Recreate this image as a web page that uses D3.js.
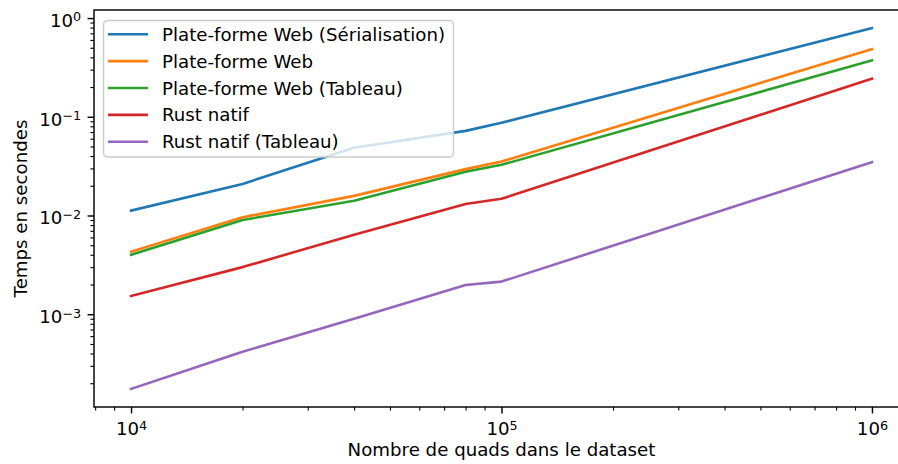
<!DOCTYPE html>
<html>
<head>
<meta charset="utf-8">
<script src="https://cdn.jsdelivr.net/npm/d3@7"></script>
<style>
  html, body { margin: 0; padding: 0; background: #fff; }
  svg { display: block; font-family: "DejaVu Sans", sans-serif; }
</style>
</head>
<body>
<svg id="chart" width="898" height="464"></svg>
<script>
// ---- data ----
const quads = [10000, 20000, 40000, 80000, 100000, 1000000];
const seriesNames = [
  "Plate-forme Web (Sérialisation)",
  "Plate-forme Web",
  "Plate-forme Web (Tableau)",
  "Rust natif",
  "Rust natif (Tableau)"
];
const webSerialisation = [0.0112, 0.0209, 0.0485, 0.072, 0.0868, 0.792];
const web              = [0.0043, 0.0096, 0.0158, 0.0295, 0.0352, 0.485];
const webTableau       = [0.0040, 0.0090, 0.0141, 0.0277, 0.0326, 0.372];
const rustNatif        = [0.00153, 0.0030, 0.0064, 0.0131, 0.01475, 0.243];
const rustNatifTableau = [0.000175, 0.000417, 0.00090, 0.00198, 0.00214, 0.0347];
const xTickValues = [1e4, 1e5, 1e6];
const yTickValues = [1e-3, 1e-2, 1e-1, 1e0];
const xLabel = "Nombre de quads dans le dataset";
const yLabel = "Temps en secondes";

const seriesValues = [webSerialisation, web, webTableau, rustNatif, rustNatifTableau];
const colors = ["#1f77b4", "#ff7f0e", "#2ca02c", "#d62728", "#9467bd"];

// ---- layout ----
const L = 94, R = 909, T = 10, B = 407;
const fs = 18.2;
const svg = d3.select("#chart");

function logPad(vals) {
  const lo = Math.log10(d3.min(vals)), hi = Math.log10(d3.max(vals));
  const m = (hi - lo) * 0.05;
  return [Math.pow(10, lo - m), Math.pow(10, hi + m)];
}
const x = d3.scaleLog().domain(logPad(quads)).range([L, R]);
const y = d3.scaleLog().domain(logPad(seriesValues.flat())).range([B, T]);

// clip
svg.append("defs").append("clipPath").attr("id", "clip")
  .append("rect").attr("x", L).attr("y", T).attr("width", R - L).attr("height", B - T);

// lines
const line = d3.line().x((d, i) => x(quads[i])).y(d => y(d));
const g = svg.append("g").attr("clip-path", "url(#clip)");
seriesValues.forEach((vals, k) => {
  g.append("path").datum(vals)
    .attr("d", line)
    .attr("fill", "none")
    .attr("stroke", colors[k])
    .attr("stroke-width", 2.6)
    .attr("stroke-linejoin", "round")
    .attr("stroke-linecap", "square");
});

// minor ticks
function minorTicks(scale) {
  const [a, b] = scale.domain();
  const out = [];
  for (let e = Math.floor(Math.log10(a)); e <= Math.ceil(Math.log10(b)); e++) {
    for (let m = 2; m <= 9; m++) {
      const v = m * Math.pow(10, e);
      if (v >= a && v <= b) out.push(v);
    }
  }
  return out;
}

function supLabel(sel, v) {
  const e = Math.round(Math.log10(v));
  sel.text(null);
  sel.append("tspan").text("10");
  sel.append("tspan").attr("dy", -fs * 0.3).attr("font-size", fs * 0.7)
     .text(e < 0 ? "\u2212" + (-e) : String(e));
}

const majorLen = 6.4, minorLen = 3.6, pad = 6.4;

// x axis
const xAxis = d3.axisBottom(x).tickValues(xTickValues).tickSize(majorLen).tickPadding(pad).tickFormat("");
const gx = svg.append("g").attr("transform", `translate(0,${B})`).call(xAxis);
gx.select(".domain").remove();
gx.selectAll(".tick line").attr("stroke", "#000").attr("stroke-width", 1.45);
gx.selectAll(".tick text").attr("font-size", fs).attr("fill", "#000")
  .attr("font-family", "DejaVu Sans").attr("y", 28).attr("dy", null)
  .each(function(v) { supLabel(d3.select(this), v); });
const xMinor = d3.axisBottom(x).tickValues(minorTicks(x)).tickSize(minorLen).tickFormat("");
const gxm = svg.append("g").attr("transform", `translate(0,${B})`).call(xMinor);
gxm.select(".domain").remove();
gxm.selectAll(".tick line").attr("stroke", "#000").attr("stroke-width", 1.1);

// y axis
const yAxis = d3.axisLeft(y).tickValues(yTickValues).tickSize(majorLen).tickPadding(pad).tickFormat("");
const gy = svg.append("g").attr("transform", `translate(${L},0)`).call(yAxis);
gy.select(".domain").remove();
gy.selectAll(".tick line").attr("stroke", "#000").attr("stroke-width", 1.45);
gy.selectAll(".tick text").attr("font-size", fs).attr("fill", "#000")
  .attr("font-family", "DejaVu Sans").attr("dy", "0.46em")
  .each(function(v) { supLabel(d3.select(this), v); });
const yMinor = d3.axisLeft(y).tickValues(minorTicks(y)).tickSize(minorLen).tickFormat("");
const gym = svg.append("g").attr("transform", `translate(${L},0)`).call(yMinor);
gym.select(".domain").remove();
gym.selectAll(".tick line").attr("stroke", "#000").attr("stroke-width", 1.1);

// spines
svg.append("rect").attr("x", L).attr("y", T).attr("width", R - L).attr("height", B - T)
  .attr("fill", "none").attr("stroke", "#000").attr("stroke-width", 1.45);

// axis labels
svg.append("text").attr("x", (L + R) / 2).attr("y", 456)
  .attr("text-anchor", "middle").attr("font-size", fs).attr("fill", "#000").text(xLabel);
svg.append("text").attr("transform", `translate(27,${(T + B) / 2}) rotate(-90)`)
  .attr("text-anchor", "middle").attr("font-size", fs).attr("fill", "#000").text(yLabel);

// legend
const lg = svg.append("g");
lg.append("rect").attr("x", 103.5).attr("y", 20.5).attr("width", 350).attr("height", 136.5)
  .attr("rx", 4).attr("fill", "#fff").attr("fill-opacity", 0.8)
  .attr("stroke", "#cccccc").attr("stroke-width", 1.45);
seriesNames.forEach((name, k) => {
  const yy = 34.3 + k * 26.85;
  lg.append("line").attr("x1", 108).attr("x2", 148).attr("y1", yy).attr("y2", yy)
    .attr("stroke", colors[k]).attr("stroke-width", 2.6);
  lg.append("text").attr("x", 162).attr("y", yy).attr("dy", "0.36em")
    .attr("font-size", fs).attr("fill", "#000").text(name);
});
</script>
</body>
</html>
